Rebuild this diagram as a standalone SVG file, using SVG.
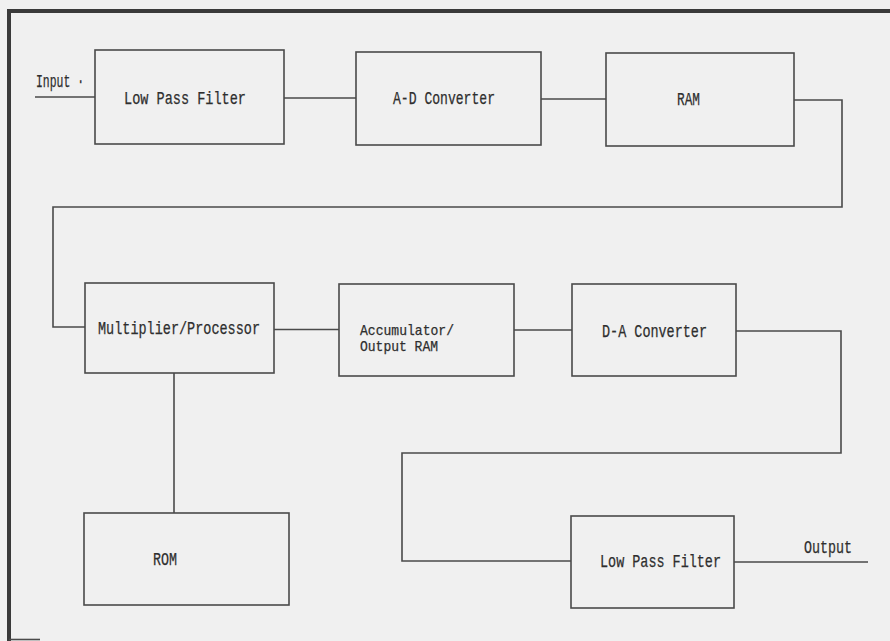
<svg xmlns="http://www.w3.org/2000/svg" width="890" height="641" viewBox="0 0 890 641">
<style>
.box{fill:none;stroke:#4a4a4a;stroke-width:1.6}
.ln{fill:none;stroke:#4a4a4a;stroke-width:1.6}
.frame{fill:none;stroke:#3a3a3a;stroke-width:4}
text{font-family:"Liberation Mono","DejaVu Sans Mono",monospace;font-size:18px;fill:#2e2e2e;stroke:#2e2e2e;stroke-width:0.25}
.sm{font-size:15px}
</style>
<rect x="0" y="0" width="890" height="641" fill="#f0f0f0"/>
<g id="frame">
<path class="frame" d="M890,11 H9 V641"/>
<path class="ln" d="M9,639.5 H40"/>
</g>
<g id="connectors">
<path class="ln" d="M35,97 H95"/>
<path class="ln" d="M284,98 H356"/>
<path class="ln" d="M541,99 H606"/>
<path class="ln" d="M794,100 H842 V207 H53 V327 H85"/>
<path class="ln" d="M274,329.5 H339"/>
<path class="ln" d="M514,330 H572"/>
<path class="ln" d="M736,331 H841 V453 H402 V561 H571"/>
<path class="ln" d="M174,373 V513"/>
<path class="ln" d="M734,562 H868"/>
</g>
<g id="input-label"><text x="36" y="87" textLength="48" lengthAdjust="spacingAndGlyphs">Input ·</text></g>
<g id="lpf1"><rect class="box" x="95" y="50" width="189" height="94"/><text x="124" y="104" textLength="122" lengthAdjust="spacingAndGlyphs">Low Pass Filter</text></g>
<g id="adc"><rect class="box" x="356" y="52" width="185" height="93"/><text x="393" y="104" textLength="102" lengthAdjust="spacingAndGlyphs">A-D Converter</text></g>
<g id="ram"><rect class="box" x="606" y="53" width="188" height="93"/><text x="677" y="105" textLength="23" lengthAdjust="spacingAndGlyphs">RAM</text></g>
<g id="mult"><rect class="box" x="85" y="283" width="189" height="90"/><text x="98" y="334" textLength="162" lengthAdjust="spacingAndGlyphs">Multiplier/Processor</text></g>
<g id="acc"><rect class="box" x="339" y="284" width="175" height="92"/><text class="sm" x="360" y="335" textLength="94" lengthAdjust="spacingAndGlyphs">Accumulator/</text><text class="sm" x="360" y="351" textLength="78" lengthAdjust="spacingAndGlyphs">Output RAM</text></g>
<g id="dac"><rect class="box" x="572" y="284" width="164" height="92"/><text x="602" y="337" textLength="105" lengthAdjust="spacingAndGlyphs">D-A Converter</text></g>
<g id="rom"><rect class="box" x="84" y="513" width="205" height="92"/><text x="153" y="565" textLength="24" lengthAdjust="spacingAndGlyphs">ROM</text></g>
<g id="lpf2"><rect class="box" x="571" y="516" width="163" height="92"/><text x="600" y="567" textLength="121" lengthAdjust="spacingAndGlyphs">Low Pass Filter</text></g>
<g id="output-label"><text x="804" y="553" textLength="48" lengthAdjust="spacingAndGlyphs">Output</text></g>
</svg>
